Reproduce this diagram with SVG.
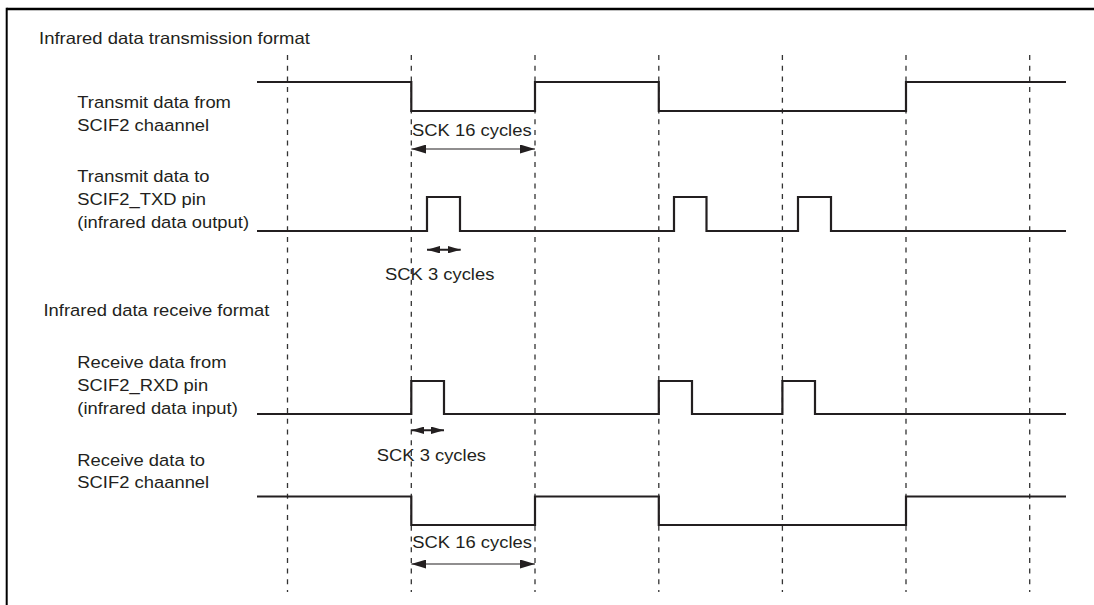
<svg xmlns="http://www.w3.org/2000/svg" width="1094" height="605" viewBox="0 0 1094 605">
<style>
  text { font-family: "Liberation Sans", Arial, sans-serif; font-size: 16.5px; fill: #231f20; }
  .sig { fill: none; stroke: #231f20; stroke-width: 2.2; stroke-linejoin: miter; stroke-linecap: butt; }
  .grid { stroke: #333; stroke-width: 1.3; stroke-dasharray: 5 5.7; }
  .dim { stroke: #231f20; stroke-width: 1.1; fill: none; }
  .dimS { stroke: #231f20; stroke-width: 2; fill: none; }
</style>
<defs>
  <marker id="ah" viewBox="0 0 15 9" refX="15" refY="4.5" markerWidth="15" markerHeight="9" markerUnits="userSpaceOnUse" orient="auto-start-reverse">
    <path d="M0,0 L15,4.5 L0,9 Z" fill="#231f20"/>
  </marker>
  <marker id="ahS" viewBox="0 0 13 7.5" refX="13" refY="3.75" markerWidth="13" markerHeight="7.5" markerUnits="userSpaceOnUse" orient="auto-start-reverse">
    <path d="M0,0 L13,3.75 L0,7.5 Z" fill="#231f20"/>
  </marker>
</defs>
<rect width="1094" height="605" fill="#fff"/>
<g id="frame" fill="none" stroke="#000">
  <line x1="6.7" y1="9" x2="1094" y2="9" stroke-width="2.4"/>
  <line x1="6.7" y1="7.8" x2="6.7" y2="605" stroke-width="2"/>
</g>
<g id="grid">
  <line class="grid" x1="287.5" y1="55" x2="287.5" y2="592"/>
  <line class="grid" x1="411.3" y1="55" x2="411.3" y2="592"/>
  <line class="grid" x1="535" y1="55" x2="535" y2="592"/>
  <line class="grid" x1="658.8" y1="55" x2="658.8" y2="592"/>
  <line class="grid" x1="782.4" y1="55" x2="782.4" y2="592"/>
  <line class="grid" x1="906" y1="55" x2="906" y2="592"/>
  <line class="grid" x1="1029.7" y1="55" x2="1029.7" y2="592"/>
</g>
<g id="title-tx"><text transform="translate(39,43.5) scale(1.12,1)">Infrared data transmission format</text></g>
<g id="title-rx"><text transform="translate(43.5,316) scale(1.115,1)">Infrared data receive format</text></g>
<g id="tx-from-scif2">
  <text transform="translate(77.3,107.5) scale(1.115,1)">Transmit data from</text>
  <text transform="translate(77.3,130.5) scale(1.115,1)">SCIF2 chaannel</text>
  <path class="sig" d="M257,82 H411.3 V111 H535 V82 H658.8 V111 H906 V82 H1066"/>
</g>
<g id="tx-to-txd">
  <text transform="translate(77.3,182) scale(1.115,1)">Transmit data to</text>
  <text transform="translate(77.3,205) scale(1.115,1)">SCIF2_TXD pin</text>
  <text transform="translate(77.3,228.3) scale(1.115,1)">(infrared data output)</text>
  <path class="sig" d="M257,231 H427 V197 H460 V231 H674 V197 H706.5 V231 H798 V197 H831 V231 H1066"/>
</g>
<g id="rx-from-rxd">
  <text transform="translate(77.3,368.3) scale(1.115,1)">Receive data from</text>
  <text transform="translate(77.3,391) scale(1.115,1)">SCIF2_RXD pin</text>
  <text transform="translate(77.3,413.5) scale(1.115,1)">(infrared data input)</text>
  <path class="sig" d="M257,414 H411.3 V381 H444 V414 H658.8 V381 H692 V414 H782.4 V381 H815 V414 H1066"/>
</g>
<g id="rx-to-scif2">
  <text transform="translate(77.3,466) scale(1.115,1)">Receive data to</text>
  <text transform="translate(77.3,488) scale(1.115,1)">SCIF2 chaannel</text>
  <path class="sig" d="M257,496.5 H411.3 V525 H535 V496.5 H658.8 V525 H906 V496.5 H1066"/>
</g>
<g id="connectors">
  <line class="dim" x1="411.3" y1="149" x2="535" y2="149" marker-start="url(#ah)" marker-end="url(#ah)"/>
  <line class="dimS" x1="427" y1="249.7" x2="460.7" y2="249.7" marker-start="url(#ahS)" marker-end="url(#ahS)"/>
  <line class="dimS" x1="411.3" y1="430.3" x2="444" y2="430.3" marker-start="url(#ahS)" marker-end="url(#ahS)"/>
  <line class="dim" x1="411.3" y1="564" x2="535" y2="564" marker-start="url(#ah)" marker-end="url(#ah)"/>
</g>
<g id="labels">
  <text transform="translate(412,136) scale(1.115,1)">SCK 16 cycles</text>
  <text transform="translate(385,280) scale(1.115,1)">SCK 3 cycles</text>
  <text transform="translate(376.7,460.7) scale(1.115,1)">SCK 3 cycles</text>
  <text transform="translate(412.3,548.3) scale(1.115,1)">SCK 16 cycles</text>
</g>
</svg>
